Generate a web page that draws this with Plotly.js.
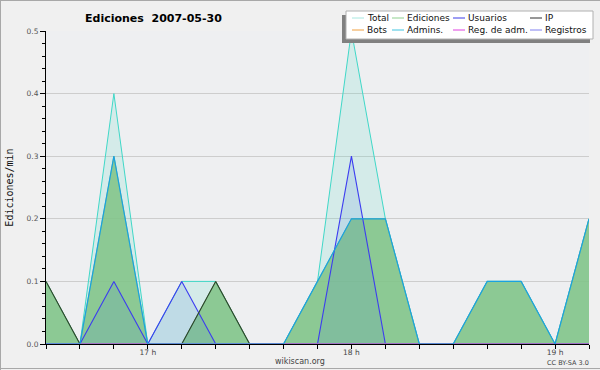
<!DOCTYPE html>
<html><head><meta charset="utf-8">
<script src="https://cdn.plot.ly/plotly-3.0.1.min.js"></script>
<style>html,body{margin:0;padding:0;background:#f0f0f0}#chart{width:600px;height:370px}</style>
</head><body><div id="chart"></div>
<script>
const times = ['2007-05-30 16:30','2007-05-30 16:40','2007-05-30 16:50','2007-05-30 17:00','2007-05-30 17:10','2007-05-30 17:20','2007-05-30 17:30','2007-05-30 17:40','2007-05-30 17:50','2007-05-30 18:00','2007-05-30 18:10','2007-05-30 18:20','2007-05-30 18:30','2007-05-30 18:40','2007-05-30 18:50','2007-05-30 19:00','2007-05-30 19:10'];
const total     = [0.1, 0, 0.4, 0, 0.1, 0.1, 0, 0, 0.1, 0.5, 0.2, 0, 0, 0.1, 0.1, 0, 0.2];
const ediciones = [0.1, 0, 0.3, 0, 0,   0.1, 0, 0, 0.1, 0.2, 0.2, 0, 0, 0.1, 0.1, 0, 0.2];
const usuarios  = [0,   0, 0.1, 0, 0.1, 0,   0, 0, 0,   0.3, 0,   0, 0, 0,   0,   0, 0];
const ip        = [0.1, 0, 0,   0, 0,   0.1, 0, 0, 0,   0,   0,   0, 0, 0,   0,   0, 0];
const admins    = [0,   0, 0.3, 0, 0,   0,   0, 0, 0.1, 0.2, 0.2, 0, 0, 0.1, 0.1, 0, 0.2];
const bots      = [0, 0, 0, 0, 0, 0, 0, 0, 0, 0, 0, 0, 0, 0, 0, 0, 0];
const regAdm    = [0, 0, 0, 0, 0, 0, 0, 0, 0, 0, 0, 0, 0, 0, 0, 0, 0];
const registros = [0, 0, 0, 0, 0, 0, 0, 0, 0, 0, 0, 0, 0, 0, 0, 0, 0];
const hourTicks  = ['2007-05-30 17:00','2007-05-30 18:00','2007-05-30 19:00'];
const hourLabels = ['17 h','18 h','19 h'];
const legendNames  = ['Total','Ediciones','Usuarios','IP','Bots','Admins.','Reg. de adm.','Registros'];
const legendColors = ['#a8e8e0','#8fd08f','#3c3ce8','#303030','#f0a040','#40c4e0','#e040e0','#8080f0'];

const PX = x => (x - 46) / 543;
const PY = y => (344 - y) / 313;

const ticktext = times.map(t => { const i = hourTicks.indexOf(t); return i >= 0 ? hourLabels[i] : ''; });

const traces = [
  {x: times, y: total, name: 'Total', type: 'scatter', mode: 'lines', fill: 'tozeroy',
   fillcolor: 'rgba(80,215,190,0.16)', line: {color: '#40d8c8', width: 1}},
  {x: times, y: ediciones, name: 'Ediciones', type: 'scatter', mode: 'lines', fill: 'tozeroy',
   fillcolor: 'rgba(130,196,136,0.88)', line: {color: '#80c080', width: 1}},
  {x: times, y: usuarios, name: 'Usuarios', type: 'scatter', mode: 'lines', fill: 'tozeroy',
   fillcolor: 'rgba(65,130,210,0.14)', line: {color: '#3c3cf0', width: 1.1}},
  {x: times, y: ip, name: 'IP', type: 'scatter', mode: 'lines', line: {color: '#2a432a', width: 1.1}},
  {x: times, y: bots, name: 'Bots', type: 'scatter', mode: 'lines', line: {color: '#f0a040', width: 1}},
  {x: times, y: regAdm, name: 'Reg. de adm.', type: 'scatter', mode: 'lines', line: {color: '#e040e0', width: 1}},
  {x: times, y: registros, name: 'Registros', type: 'scatter', mode: 'lines', line: {color: '#8080f0', width: 1}},
  {x: times, y: admins, name: 'Admins.', type: 'scatter', mode: 'lines', line: {color: '#1aa2e0', width: 1.2}}
];

const colX = [352, 392, 453, 530];
const rowY = [18, 30];
const shapes = [
  // paper frame
  {type: 'line', xref: 'paper', yref: 'paper', x0: PX(0.5), x1: PX(0.5), y0: PY(0), y1: PY(370), line: {color: '#a8a8a8', width: 1}},
  {type: 'line', xref: 'paper', yref: 'paper', x0: PX(0), x1: PX(600), y0: PY(0.5), y1: PY(0.5), line: {color: '#a8a8a8', width: 1}},
  {type: 'line', xref: 'paper', yref: 'paper', x0: PX(0), x1: PX(600), y0: PY(368.5), y1: PY(368.5), line: {color: '#a8a8a8', width: 1}},
  // legend shadow and box
  {type: 'rect', xref: 'paper', yref: 'paper', x0: PX(342), x1: PX(590), y0: PY(15), y1: PY(43), fillcolor: '#808080', line: {width: 0}, layer: 'above'},
  {type: 'rect', xref: 'paper', yref: 'paper', x0: PX(346), x1: PX(593), y0: PY(11), y1: PY(39), fillcolor: '#ffffff', line: {color: '#b0b0b0', width: 1}, layer: 'above'}
];
const annotations = [
  {xref: 'paper', yref: 'paper', x: PX(300), y: PY(361), text: 'wikiscan.org', showarrow: false, xanchor: 'center', yanchor: 'middle',
   font: {family: 'DejaVu Sans', size: 8, color: '#444'}},
  {xref: 'paper', yref: 'paper', x: PX(591), y: PY(362.5), text: 'CC BY-SA 3.0', showarrow: false, xanchor: 'right', yanchor: 'middle',
   font: {family: 'DejaVu Sans', size: 6.5, color: '#444'}}
];
legendNames.forEach((n, i) => {
  const cx = colX[i % 4], cy = rowY[Math.floor(i / 4)];
  shapes.push({type: 'line', xref: 'paper', yref: 'paper', x0: PX(cx), x1: PX(cx + 12), y0: PY(cy), y1: PY(cy),
               line: {color: legendColors[i], width: 1}, layer: 'above'});
  annotations.push({xref: 'paper', yref: 'paper', x: PX(cx + 13), y: PY(cy), text: n, showarrow: false,
                    xanchor: 'left', yanchor: 'middle', font: {family: 'DejaVu Sans', size: 9, color: '#111'}});
});

const layout = {
  width: 600, height: 370,
  paper_bgcolor: '#f0f0f0', plot_bgcolor: '#eeeff1',
  margin: {l: 46, r: 11, t: 31, b: 26, pad: 0},
  showlegend: false,
  title: {text: 'Ediciones\u00a0\u00a02007-05-30', xref: 'container', yref: 'container', x: 85 / 600, xanchor: 'left',
          y: 1 - 18 / 370, yanchor: 'middle', font: {family: 'DejaVu Sans', size: 11, color: '#000', weight: 'bold'}},
  xaxis: {type: 'date', range: [times[0], times[times.length - 1]], tickvals: times, ticktext: ticktext,
          ticks: 'outside', ticklen: 4, tickcolor: '#000', tickwidth: 1, showline: true, linecolor: '#000', linewidth: 1,
          ticklabelstandoff: -3,
          showgrid: false, zeroline: false, tickfont: {family: 'DejaVu Sans', size: 7.5, color: '#444'}, fixedrange: true},
  yaxis: {range: [0, 0.5], tick0: 0, dtick: 0.1, tickformat: '.1f', ticks: 'outside', ticklen: 5, tickcolor: '#000',
          showline: true, linecolor: '#000', linewidth: 1, gridcolor: '#cdcdcd', zeroline: false,
          minor: {dtick: 0.02, ticklen: 3, tickcolor: '#000', ticks: 'outside', showgrid: false},
          tickfont: {family: 'DejaVu Sans', size: 7.5, color: '#555'},
          title: {text: 'Ediciones/min', standoff: 11, font: {family: 'DejaVu Sans Mono', size: 10, color: '#111'}}, fixedrange: true},
  shapes: shapes,
  annotations: annotations
};
Plotly.newPlot('chart', traces, layout, {staticPlot: true, displayModeBar: false});
</script>
</body></html>
